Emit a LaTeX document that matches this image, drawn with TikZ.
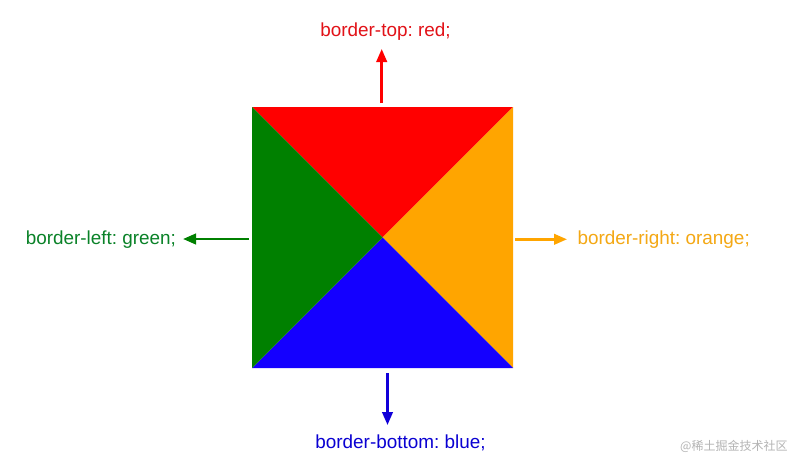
\documentclass[tikz,border=0pt]{standalone}
\usepackage{fontspec}
\setmainfont{Liberation Sans}
\newfontfamily\cjk{Noto Sans CJK SC}
\usetikzlibrary{arrows.meta}
\frenchspacing
\definecolor{cred}{RGB}{255,0,0}
\definecolor{cgreen}{RGB}{0,128,0}
\definecolor{corange}{RGB}{255,165,0}
\definecolor{cblue}{RGB}{20,0,255}
\definecolor{tred}{RGB}{226,18,24}
\definecolor{tgreen}{RGB}{10,130,40}
\definecolor{torange}{RGB}{244,168,20}
\definecolor{tblue}{RGB}{10,0,210}
\definecolor{wm}{RGB}{180,180,180}
\tikzset{
  lbl/.style={inner sep=0pt, outer sep=0pt, font=\fontsize{18.9}{22}\selectfont},
  ptr/.style={line width=2.5pt, -{Triangle[length=13pt,width=10.5pt]}},
}
\begin{document}
\begin{tikzpicture}[x=1pt,y=-1pt]
\useasboundingbox[fill=white] (0,0) rectangle (812,466);
\node[minimum width=261pt, minimum height=261pt, inner sep=0pt, outer sep=0pt] (sq) at (382.5,237.5) {};
\fill[cred] (sq.north west) -- (sq.north east) -- (sq.center) -- cycle;
\fill[corange] (sq.north east) -- (sq.south east) -- (sq.center) -- cycle;
\fill[cblue] (sq.south east) -- (sq.south west) -- (sq.center) -- cycle;
\fill[cgreen] (sq.south west) -- (sq.north west) -- (sq.center) -- cycle;
% labels
\node[lbl, text=tred, anchor=base] (top) at (385.5,36) {border-top: red;};
\node[lbl, text=tgreen, anchor=base east] (left) at (176,244) {border-left: green;};
\node[lbl, text=torange, anchor=base west] (right) at (577.5,244) {border-right: orange;};
\node[lbl, text=tblue, anchor=base] (bottom) at (400.5,448) {border-bottom: blue;};
\node[inner sep=0pt, text=wm, anchor=west, font=\cjk\fontsize{12}{14}\selectfont] (wmk) at (680,446) {@稀土掘金技术社区};
% arrow ends
\coordinate (ts) at (381.7,103);
\coordinate (tt) at (381.7,49);
\coordinate (ls) at (249,239);
\coordinate (lt) at (183,239);
\coordinate (rs) at (515,239.3);
\coordinate (rt) at (567,239.3);
\coordinate (bs) at (387.5,373);
\coordinate (bt) at (387.5,425);
\draw[ptr, cred] (ts) -- (tt);
\draw[ptr, cgreen] (ls) -- (lt);
\draw[ptr, corange] (rs) -- (rt);
\draw[ptr, cblue!85!black] (bs) -- (bt);
\end{tikzpicture}
\end{document}
